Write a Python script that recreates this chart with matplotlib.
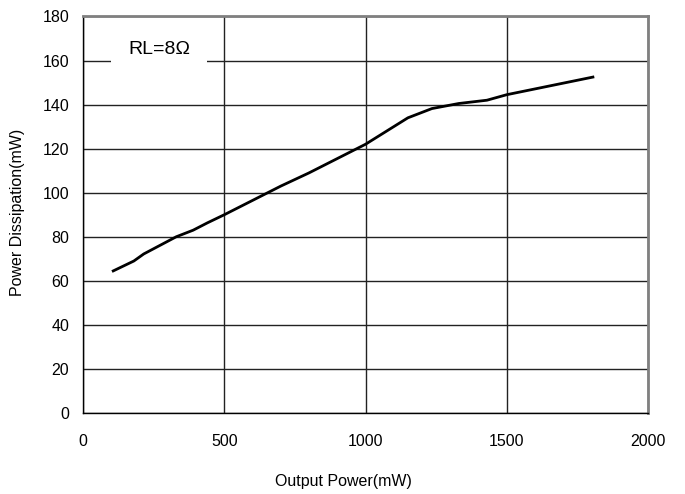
import matplotlib
matplotlib.use("Agg")
import matplotlib.pyplot as plt

plt.rcParams['font.family'] = ['Liberation Sans', 'DejaVu Sans']

output_power = [107, 180, 215, 330, 390, 440, 500, 600, 700, 800, 900, 1000,
                1050, 1100, 1150, 1235, 1330, 1430, 1500, 1805]
power_dissipation = [64.5, 69, 72.2, 80, 83, 86.3, 90, 96.5, 103, 109, 115.5, 122,
                     126, 130, 134, 138.2, 140.5, 142, 144.5, 152.5]
x_ticks = [0, 500, 1000, 1500, 2000]
y_ticks = [0, 20, 40, 60, 80, 100, 120, 140, 160, 180]
label_text = "RL=8Ω"

fig = plt.figure(figsize=(6.85, 4.94), dpi=100)
ax = fig.add_axes([83/685, 1-413/494, (648-83)/685, (413-16.5)/494])

ax.plot(output_power, power_dissipation, color='black', lw=2, zorder=3)

ax.set_xlim(0, 2000)
ax.set_ylim(0, 180)
ax.set_xticks(x_ticks)
ax.set_yticks(y_ticks)
ax.grid(True, color='#222222', lw=1)
ax.set_axisbelow(True)
ax.tick_params(length=0, labelsize=11.5)
ax.tick_params(axis='x', pad=15)
ax.tick_params(axis='y', pad=10)

for s in ['top', 'right']:
    ax.spines[s].set_color('#808080')
    ax.spines[s].set_linewidth(2)
for s in ['left', 'bottom']:
    ax.spines[s].set_color('black')
    ax.spines[s].set_linewidth(1)

ax.text(159/685, 1-50/494, label_text, transform=fig.transFigure, ha='center', va='center',
        fontsize=14, zorder=4,
        bbox=dict(facecolor='white', edgecolor='none', boxstyle='square,pad=0.85'))

fig.text(343/685, 1-481/494, "Output Power(mW)", ha='center', va='center', fontsize=11.5)
fig.text(18/685, 1-212/494, "Power Dissipation(mW)", ha='center', va='center',
         rotation=90, fontsize=11.5)

fig.savefig("out.png", dpi=100)
